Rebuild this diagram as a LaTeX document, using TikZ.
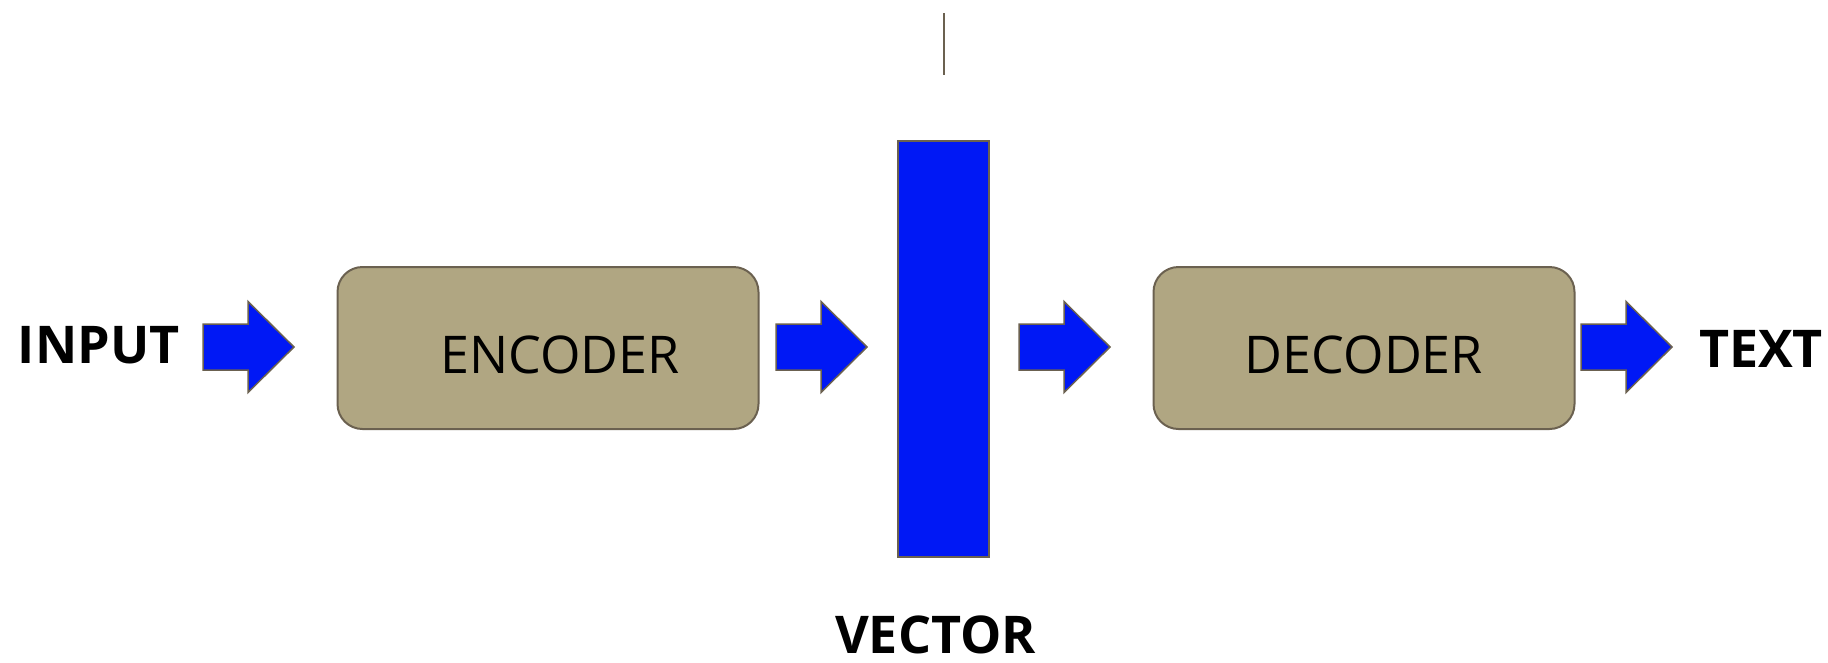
\documentclass[tikz,border=0pt]{standalone}
\usepackage{fontspec}
\setmainfont{Open Sans}

\definecolor{vecblue}{RGB}{0,24,245}
\definecolor{boxtan}{RGB}{176,166,130}
\definecolor{edgegrey}{RGB}{107,97,80}

\tikzset{
    coderbox/.style={draw=edgegrey, line width=2pt, fill=boxtan, rounded corners=25pt,
        minimum width=421pt, minimum height=162pt, inner sep=0pt,
        font=\fontsize{52}{60}\selectfont, text height=50pt, text depth=0pt},
    tag/.style={font=\fontsize{52}{60}\selectfont\bfseries, inner sep=0pt},
    blockarrow/.style={fill=vecblue, draw=edgegrey, line width=1.5pt, line join=miter},
}

\begin{document}
\begin{tikzpicture}[x=1pt, y=-1pt]
    \useasboundingbox (0,0) rectangle (1828,662);

    % Stub above the vector
    \draw[edgegrey, line width=2.5pt] (944,13) -- (944,75);

    % Encoder and decoder
    \node[coderbox] (enc) at (548,348) {\hspace*{24pt}ENCODER};
    \node[coderbox] (dec) at (1364,348) {DECODER};

    % Latent vector
    \node[fill=vecblue, draw=edgegrey, line width=2pt, minimum width=91pt,
        minimum height=416pt, inner sep=0pt] (vec) at (943.5,348.5) {};

    % Labels
    \node[tag] (in)  at (98.7,345) {INPUT};
    \node[tag] (out) at (1761,349) {TEXT};
    \node[tag] (lat) at (935.5,635) {VECTOR};

    % Block arrows
    \foreach \x in {203, 776, 1019, 1581} {
        \filldraw[blockarrow] (\x,324) -- ++(45,0) -- ++(0,-22.5) -- ++(46,45.5)
            -- ++(-46,45.5) -- ++(0,-22.5) -- ++(-45,0) -- cycle;
    }
\end{tikzpicture}
\end{document}
